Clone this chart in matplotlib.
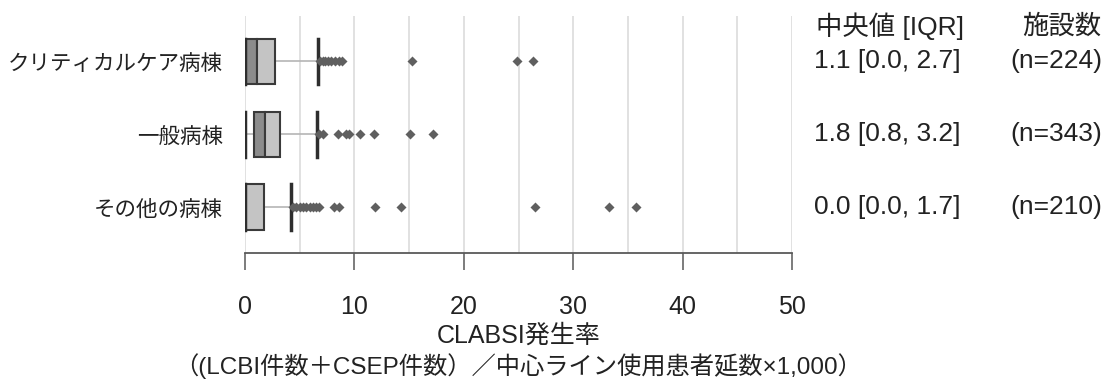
import matplotlib
matplotlib.use("Agg")
import matplotlib.pyplot as plt
from matplotlib.transforms import blended_transform_factory

# --- données ---
categories = ['クリティカルケア病棟', '一般病棟', 'その他の病棟']
q1 = [0.0, 0.8, 0.0]
med = [1.1, 1.8, 0.0]
q3 = [2.7, 3.2, 1.7]
whis_lo = [0.0, 0.0, 0.0]
whis_hi = [6.7, 6.55, 4.25]
n_sites = [224, 343, 210]
outliers = [
    [6.9, 7.1, 7.3, 7.6, 7.9, 8.2, 8.6, 8.9, 15.3, 24.9, 26.3],
    [6.8, 7.1, 8.5, 9.2, 9.5, 10.5, 11.8, 15.1, 17.2],
    [4.4, 4.7, 5.0, 5.3, 5.6, 5.9, 6.2, 6.5, 6.8, 8.1, 8.6, 11.9, 14.3, 26.5, 33.3, 35.7],
]
xticks = [0, 10, 20, 30, 40, 50]
xlabel_1 = 'CLABSI発生率'
xlabel_2 = '（(LCBI件数＋CSEP件数）／中心ライン使用患者延数×1,000）'

latin = 'Liberation Sans'
cjk = 'Noto Sans CJK JP'
txt_col = '#222222'
W, H = 1113, 380

fig = plt.figure(figsize=(11.13, 3.8), dpi=100)
ax = fig.add_axes([245 / W, 1 - 253 / H, (792 - 245) / W, (253 - 16) / H])

ypos = list(range(len(categories)))
h = 0.62
edge = '#3a3a3a'

for i, y in enumerate(ypos):
    # moustaches
    ax.plot([whis_lo[i], q1[i]], [y, y], color='#b5b5b5', lw=1.2, zorder=2)
    ax.plot([q3[i], whis_hi[i]], [y, y], color='#b5b5b5', lw=1.2, zorder=2)
    # boîte en deux parties
    ax.barh(y, med[i] - q1[i], left=q1[i], height=h, color='#8c8c8c',
            edgecolor=edge, linewidth=1.5, zorder=3)
    ax.barh(y, q3[i] - med[i], left=med[i], height=h, color='#c4c4c4',
            edgecolor=edge, linewidth=1.5, zorder=3)
    # extrémités
    ax.plot([whis_lo[i]] * 2, [y - h / 2, y + h / 2], color='#2e2e2e', lw=2.5, zorder=4)
    ax.plot([whis_hi[i]] * 2, [y - h / 2, y + h / 2], color='#2e2e2e', lw=2.5, zorder=4)
    # valeurs aberrantes
    ax.scatter(outliers[i], [y] * len(outliers[i]), marker='D', s=26,
               color='#5f5f5f', linewidths=0, zorder=5)

ax.set_xlim(0, 50)
ax.set_ylim(2.63, -0.62)
ax.set_xticks(xticks)
ax.set_xticks(range(5, 50, 10), minor=True)
ax.grid(True, axis='x', which='both', color='#dcdcdc', lw=1.2, zorder=0)
ax.set_axisbelow(True)

for s in ['left', 'right', 'top']:
    ax.spines[s].set_visible(False)
ax.spines['bottom'].set_color('#595959')
ax.spines['bottom'].set_linewidth(1.3)
ax.tick_params(axis='x', which='major', length=12, width=1.1, color='#595959',
               pad=18, labelsize=18, labelcolor=txt_col)
ax.tick_params(axis='x', which='minor', length=0)
for lab in ax.get_xticklabels():
    lab.set_family(latin)

ax.set_yticks(ypos)
ax.set_yticklabels(categories, family=[cjk], fontsize=15.5, color=txt_col)
ax.tick_params(axis='y', length=0, pad=16)

# titre de l'axe x sur deux lignes
xc = (245 + 792) / 2 / W
fig.text(xc, 1 - 336 / H, xlabel_1, family=[latin, cjk], fontsize=18,
         color=txt_col, ha='center', va='center')
fig.text(xc, 1 - 366 / H, xlabel_2, family=[latin, cjk], fontsize=17.5,
         color=txt_col, ha='center', va='center')

# colonnes de texte à droite
tr = blended_transform_factory(fig.transFigure, ax.transData)
fam = [latin, cjk]
ax.text(816 / W, -0.48, '中央値 [IQR]', transform=tr, family=fam, fontsize=19,
        color=txt_col, va='center', ha='left')
ax.text(1022 / W, -0.48, '施設数', transform=tr, family=fam, fontsize=19,
        color=txt_col, va='center', ha='left')
for i, y in enumerate(ypos):
    ax.text(814 / W, y, f'{med[i]:.1f} [{q1[i]:.1f}, {q3[i]:.1f}]', transform=tr,
            family=fam, fontsize=19, color=txt_col, va='center', ha='left')
    ax.text(1010 / W, y, f'(n={n_sites[i]})', transform=tr,
            family=fam, fontsize=19, color=txt_col, va='center', ha='left')

fig.savefig('out.png', dpi=100)
